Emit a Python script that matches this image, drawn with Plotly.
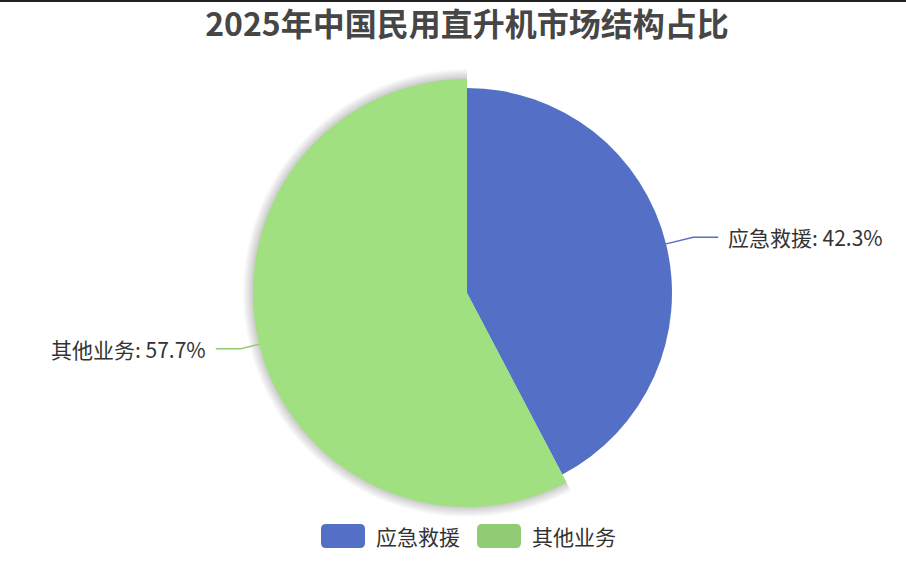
import math
import plotly.graph_objects as go

categories = ["应急救援", "其他业务"]
shares = [42.3, 57.7]
sliceColors = ["#5470c6", "#a0e080"]
legendColors = ["#5470c6", "#91cc75"]

W, H = 906, 576
cx, cy = 467, 293          # pie centre in pixels (from top)
rBase, rHover = 205, 214   # green slice is shown enlarged (hover state)
font = "Noto Sans CJK SC, Noto Sans, sans-serif"


def dom(r):
    return dict(x=[(cx - r) / W, (cx + r) / W],
                y=[(H - cy - r) / H, (H - cy + r) / H])


def px(x, y):
    return x / W, 1 - y / H


fig = go.Figure()

# soft shadow behind the enlarged slice
for k in range(10, 0, -1):
    fig.add_trace(go.Pie(
        values=shares, sort=False, direction="clockwise", rotation=0,
        marker=dict(colors=["rgba(0,0,0,0)", "rgba(0,0,0,0.018)"], line=dict(width=0)),
        textinfo="none", hoverinfo="skip", showlegend=False, domain=dom(rHover + k),
    ))

radii = [rBase, rHover]
for i, cat in enumerate(categories):
    cols = ["rgba(0,0,0,0)"] * len(categories)
    cols[i] = sliceColors[i]
    fig.add_trace(go.Pie(
        labels=categories, values=shares, sort=False, direction="clockwise", rotation=0,
        marker=dict(colors=cols, line=dict(width=0)),
        textinfo="none", showlegend=False, domain=dom(radii[i]),
    ))

shapes = []
annotations = []
total = sum(shares)
start = 0
for i, cat in enumerate(categories):
    mid = (start + shares[i] / 2) / total * 2 * math.pi
    start += shares[i]
    r = radii[i]
    sx, sy = cx + r * math.sin(mid), cy - r * math.cos(mid)
    side = 1 if math.sin(mid) > 0 else -1
    ex, ey = cx + (rBase + 28) * math.sin(mid), cy - (rBase + 28) * math.cos(mid)
    ex2 = ex + side * 25
    p1, p2, p3 = px(sx, sy), px(ex, ey), px(ex2, ey)
    shapes.append(dict(type="path", xref="paper", yref="paper",
                       path=f"M{p1[0]},{p1[1]} L{p2[0]},{p2[1]} L{p3[0]},{p3[1]}",
                       line=dict(color=legendColors[i], width=1.5)))
    tx = px(ex2 + side * 8, ey)
    annotations.append(dict(x=tx[0], y=tx[1], xref="paper", yref="paper",
                            text=f"{cat}: {shares[i]}%", showarrow=False,
                            xanchor="left" if side > 0 else "right", yanchor="middle",
                            font=dict(size=21, color="#333", family=font)))

# legend drawn by hand (wide rounded icons)
lx = [321, 477]
for i, cat in enumerate(categories):
    x0, x1, y0, y1 = lx[i], lx[i] + 44, 524, 548
    rr = 5
    pts = [px(x0 + rr, y0), px(x1 - rr, y0), px(x1, y0 + rr), px(x1, y1 - rr),
           px(x1 - rr, y1), px(x0 + rr, y1), px(x0, y1 - rr), px(x0, y0 + rr)]
    path = (f"M{pts[0][0]},{pts[0][1]} L{pts[1][0]},{pts[1][1]} "
            f"Q{px(x1, y0)[0]},{px(x1, y0)[1]} {pts[2][0]},{pts[2][1]} "
            f"L{pts[3][0]},{pts[3][1]} Q{px(x1, y1)[0]},{px(x1, y1)[1]} {pts[4][0]},{pts[4][1]} "
            f"L{pts[5][0]},{pts[5][1]} Q{px(x0, y1)[0]},{px(x0, y1)[1]} {pts[6][0]},{pts[6][1]} "
            f"L{pts[7][0]},{pts[7][1]} Q{px(x0, y0)[0]},{px(x0, y0)[1]} {pts[0][0]},{pts[0][1]} Z")
    shapes.append(dict(type="path", xref="paper", yref="paper", path=path,
                       fillcolor=legendColors[i], line=dict(width=0)))
    t = px(x1 + 9, 536)
    annotations.append(dict(x=t[0], y=t[1], xref="paper", yref="paper", text=cat,
                            showarrow=False, xanchor="left", yanchor="middle",
                            font=dict(size=21, color="#333", family=font)))

# thin dark rule along the top edge
shapes.append(dict(type="line", xref="paper", yref="paper", x0=0, x1=1,
                   y0=1 - 1 / H, y1=1 - 1 / H, line=dict(color="#222", width=2)))

fig.update_layout(
    width=W, height=H,
    margin=dict(l=0, r=0, t=0, b=0),
    paper_bgcolor="white",
    title=dict(text="<b>2025年中国民用直升机市场结构占比</b>", x=cx / W, xanchor="center",
               y=1 - 25 / H, yanchor="middle",
               font=dict(size=32, color="#464646", family=font)),
    shapes=shapes,
    annotations=annotations,
    showlegend=False,
)

fig.write_html("out.html", config={"displayModeBar": False},
               post_script="document.body.style.margin='0';document.body.style.overflow='hidden';")
